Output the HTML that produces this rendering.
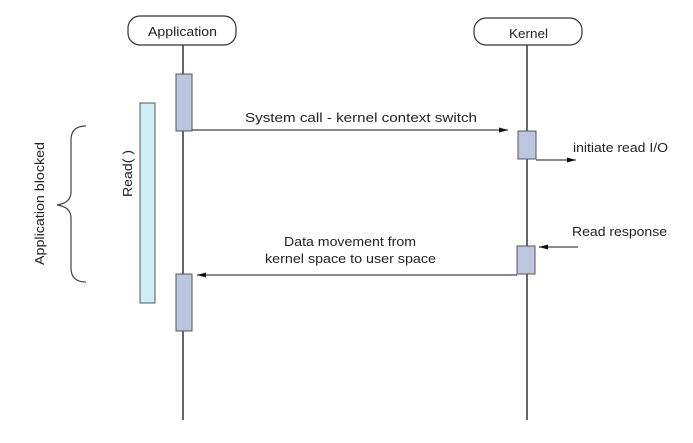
<!DOCTYPE html>
<html><head><style>body{margin:0;background:#fff}svg{display:block}text{font-family:"Liberation Sans",sans-serif;font-size:13px;fill:#222}</style></head><body>
<svg width="693" height="443" viewBox="0 0 693 443">
<defs><marker id="a" markerWidth="10" markerHeight="8" refX="9" refY="4" orient="auto" markerUnits="userSpaceOnUse"><path d="M0,1.5 L9,4 L0,6.5 Z" fill="#111"/></marker></defs>
<g stroke="#666" stroke-width="2" fill="none">
<line x1="183" y1="45" x2="183" y2="420"/>
<line x1="527" y1="45" x2="527" y2="420"/>
</g>
<rect x="128" y="16" width="108" height="29" rx="12" fill="#fff" stroke="#333" stroke-width="1.2"/>
<text x="148" y="36" textLength="69" lengthAdjust="spacingAndGlyphs">Application</text>
<rect x="474" y="18" width="108" height="27" rx="12" fill="#fff" stroke="#333" stroke-width="1.2"/>
<text x="509" y="38" textLength="39" lengthAdjust="spacingAndGlyphs">Kernel</text>
<g fill="#bcc6df" stroke="#555" stroke-width="1">
<rect x="176" y="74" width="16" height="57"/>
<rect x="176" y="274" width="16" height="57"/>
<rect x="518" y="131" width="18" height="28"/>
<rect x="517" y="246" width="18" height="28"/>
</g>
<rect x="140" y="103" width="15" height="200" fill="#cdeef2" stroke="#555"/>
<g stroke="#444" stroke-width="1.2" fill="none">
<line x1="192" y1="130" x2="508" y2="130" marker-end="url(#a)"/>
<polyline points="536,160 576,160" marker-end="url(#a)"/>
<line x1="578" y1="247" x2="539" y2="247" marker-end="url(#a)"/>
<line x1="517" y1="275" x2="197" y2="275" marker-end="url(#a)"/>
<path d="M86,126 Q71,126 71,140 L71,192 Q71,203 57,205 Q71,207 71,218 L71,268 Q71,282 86,282"/>
</g>
<text x="245" y="122" textLength="232" lengthAdjust="spacingAndGlyphs">System call - kernel context switch</text>
<text x="573" y="152" textLength="95" lengthAdjust="spacingAndGlyphs">initiate read I/O</text>
<text x="572" y="236" textLength="95" lengthAdjust="spacingAndGlyphs">Read response</text>
<text x="284" y="246" textLength="132" lengthAdjust="spacingAndGlyphs">Data movement from</text>
<text x="265" y="263" textLength="171" lengthAdjust="spacingAndGlyphs">kernel space to user space</text>
<text transform="translate(44,265) rotate(-90)" textLength="123" lengthAdjust="spacingAndGlyphs">Application blocked</text>
<text transform="translate(132,197) rotate(-90)" textLength="47" lengthAdjust="spacingAndGlyphs">Read( )</text>
</svg>
</body></html>
